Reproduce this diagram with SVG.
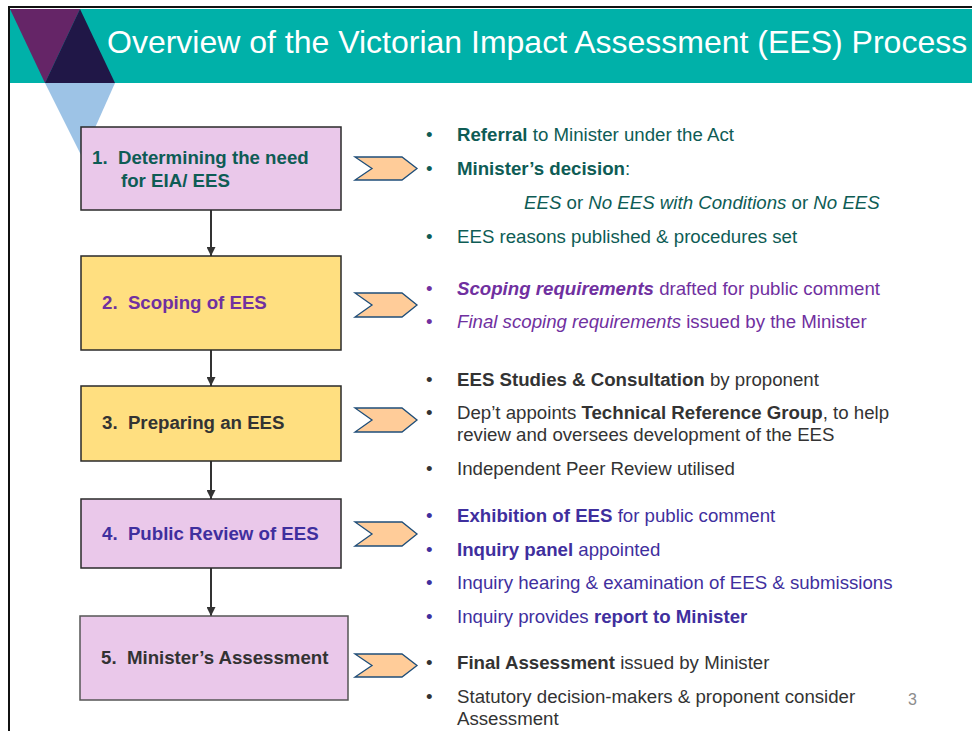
<svg xmlns="http://www.w3.org/2000/svg" width="972" height="731" viewBox="0 0 972 731">
<style>
text{font-family:"Liberation Sans",Arial,sans-serif;font-size:18.67px}
.b{font-weight:bold}
.i{font-style:italic}
.box{stroke:#2a2a2a;stroke-width:1.5}
.pink{fill:#EAC8EA}
.yel{fill:#FFDF80}
.chev{fill:#FFCC99;stroke:#1F4E79;stroke-width:1.3}
.teal{fill:#0E5C55}
.purp{fill:#7030A0}
.indi{fill:#3F2F9E}
.dark{fill:#333333}
.conn{stroke:#333;stroke-width:2;fill:none}
</style>
<defs>
<marker id="ah" viewBox="0 0 10 10" refX="10" refY="5" markerWidth="4.5" markerHeight="4.5" orient="auto" markerUnits="strokeWidth">
<path d="M0,0 L10,5 L0,10 z" fill="#333"/>
</marker>
</defs>
<rect width="972" height="731" fill="#ffffff"/>
<g id="header">
<rect x="10" y="9" width="962" height="74" fill="#00B1A9"/>
<polygon points="45,83 115,83 82,157" fill="#9DC3E6"/>
<polygon points="10,9 80,9 45,83" fill="#652567"/>
<polygon points="80,9 45,83 115,83" fill="#201747"/>
<text x="107" y="53" style="font-size:32px" fill="#ffffff">Overview of the Victorian Impact Assessment (EES) Process</text>
</g>
<g id="frame">
<line x1="9" y1="7" x2="972" y2="7" stroke="#111" stroke-width="2"/>
<line x1="9" y1="6" x2="9" y2="731" stroke="#111" stroke-width="2"/>
</g>
<g id="connectors">
<line class="conn" x1="211" y1="210" x2="211" y2="256" marker-end="url(#ah)"/>
<line class="conn" x1="211" y1="350" x2="211" y2="386" marker-end="url(#ah)"/>
<line class="conn" x1="211" y1="461" x2="211" y2="499" marker-end="url(#ah)"/>
<line class="conn" x1="211" y1="568" x2="211" y2="616" marker-end="url(#ah)"/>
</g>
<g id="step1">
<rect class="box pink" x="81" y="127" width="260" height="83"/>
<text class="b teal" x="92" y="164" xml:space="preserve">1.  Determining the need</text>
<text class="b teal" x="121" y="187">for EIA/ EES</text>
</g>
<g id="step2">
<rect class="box yel" x="81" y="256" width="260" height="94"/>
<text class="b purp" x="102" y="309" xml:space="preserve">2.  Scoping of EES</text>
</g>
<g id="step3">
<rect class="box yel" x="81" y="386" width="260" height="75"/>
<text class="b dark" x="102" y="429" xml:space="preserve">3.  Preparing an EES</text>
</g>
<g id="step4">
<rect class="box pink" x="81" y="499" width="260" height="69"/>
<text class="b indi" x="102" y="540" xml:space="preserve">4.  Public Review of EES</text>
</g>
<g id="step5">
<rect class="box pink" x="80" y="616" width="268" height="84" style="stroke:#555"/>
<text class="b dark" x="101" y="664" xml:space="preserve">5.  Minister’s Assessment</text>
</g>
<g id="chevrons">
<polygon class="chev" points="355,157 402,157 417,168.5 402,180 355,180 372,168.5"/>
<polygon class="chev" points="355,293 402,293 417,305 402,317 355,317 372,305"/>
<polygon class="chev" points="355,408 402,408 417,420 402,432 355,432 372,420"/>
<polygon class="chev" points="355,522 402,522 417,534 402,546 355,546 372,534"/>
<polygon class="chev" points="355,654 402,654 417,665.5 402,677 355,677 372,665.5"/>
</g>
<g id="notes1" class="teal">
<text class="teal" x="426" y="141">•</text>
<text class="teal" x="457" y="141"><tspan class="b">Referral</tspan> to Minister under the Act</text>
<text class="teal" x="426" y="175">•</text>
<text class="teal" x="457" y="175"><tspan class="b">Minister’s decision</tspan>:</text>
<text class="teal" x="524" y="209"><tspan class="i">EES</tspan> or <tspan class="i">No EES with Conditions</tspan> or <tspan class="i">No EES</tspan></text>
<text class="teal" x="426" y="243">•</text>
<text class="teal" x="457" y="243">EES reasons published &amp; procedures set</text>
</g>
<g id="notes2">
<text class="purp" x="426" y="295">•</text>
<text class="purp" x="457" y="295"><tspan class="b i">Scoping requirements</tspan> drafted for public comment</text>
<text class="purp" x="426" y="328">•</text>
<text class="purp" x="457" y="328"><tspan class="i">Final scoping requirements</tspan> issued by the Minister</text>
</g>
<g id="notes3">
<text class="dark" x="426" y="386">•</text>
<text class="dark" x="457" y="386"><tspan class="b">EES Studies &amp; Consultation</tspan> by proponent</text>
<text class="dark" x="426" y="419">•</text>
<text class="dark" x="457" y="419">Dep’t appoints <tspan class="b">Technical Reference Group</tspan>, to help</text>
<text class="dark" x="457" y="441">review and oversees development of the EES</text>
<text class="dark" x="426" y="475">•</text>
<text class="dark" x="457" y="475">Independent Peer Review utilised</text>
</g>
<g id="notes4">
<text class="indi" x="426" y="522">•</text>
<text class="indi" x="457" y="522"><tspan class="b">Exhibition of EES</tspan> for public comment</text>
<text class="indi" x="426" y="556">•</text>
<text class="indi" x="457" y="556"><tspan class="b">Inquiry panel</tspan> appointed</text>
<text class="indi" x="426" y="589">•</text>
<text class="indi" x="457" y="589">Inquiry hearing &amp; examination of EES &amp; submissions</text>
<text class="indi" x="426" y="623">•</text>
<text class="indi" x="457" y="623">Inquiry provides <tspan class="b">report to Minister</tspan></text>
</g>
<g id="notes5">
<text class="dark" x="426" y="669">•</text>
<text class="dark" x="457" y="669"><tspan class="b">Final Assessment</tspan> issued by Minister</text>
<text class="dark" x="426" y="703">•</text>
<text class="dark" x="457" y="703">Statutory decision-makers &amp; proponent consider</text>
<text class="dark" x="457" y="725">Assessment</text>
<text x="908" y="705" style="font-size:16px" fill="#8c8c8c">3</text>
</g>
</svg>
